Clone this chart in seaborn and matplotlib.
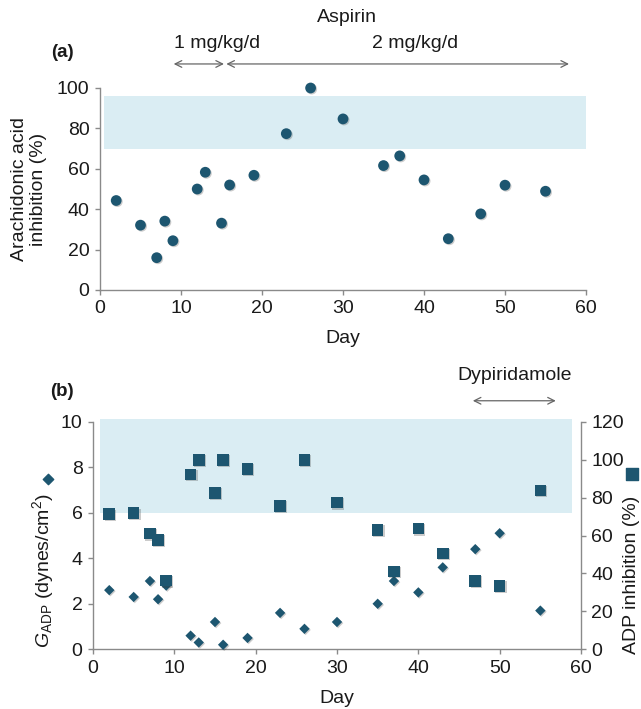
import matplotlib
matplotlib.use("Agg")
import matplotlib.pyplot as plt
import matplotlib.patheffects as pe
import seaborn as sns
import pandas as pd

# panel (a): arachidonic acid inhibition (%)
aa_day = [2, 5, 7, 8, 9, 12, 13, 15, 16, 19, 23, 26, 30, 35, 37, 40, 43, 47, 50, 55]
aa_inhib = [44.3, 32.1, 16, 34.1, 24.4, 50, 58.3, 33.1, 52, 56.8, 77.4, 100, 84.7,
            61.6, 66.4, 54.5, 25.4, 37.7, 51.9, 48.9]

# panel (b): G_ADP (left axis) and ADP inhibition % (right axis)
adp_day = [2, 5, 7, 8, 9, 12, 13, 15, 16, 19, 23, 26, 30, 35, 37, 40, 43, 47, 50, 55]
g_adp = [2.6, 2.3, 3.0, 2.2, 2.8, 0.6, 0.3, 1.2, 0.2, 0.5, 1.6, 0.9, 1.2, 2.0,
         3.0, 2.5, 3.6, 4.4, 5.1, 1.7]
adp_inhib = [71.2, 71.7, 61.0, 57.7, 36.2, 92.2, 99.9, 82.4, 99.9, 95.0, 75.6, 99.9,
             77.3, 63.0, 41.1, 63.6, 50.6, 36.0, 33.4, 83.7]

# target ranges (shaded bands)
aa_band = (0.5, 60, 70, 96)
g_band = (0.9, 58.9, 6.0, 10.1)

dfa = pd.DataFrame({"day": aa_day, "val": aa_inhib})
dfb = pd.DataFrame({"day": adp_day, "g": g_adp, "inh": adp_inhib})

sns.set_theme(style="ticks")
plt.rcParams["font.family"] = ["Liberation Sans", "DejaVu Sans"]
plt.rcParams["mathtext.fontset"] = "custom"
plt.rcParams["mathtext.rm"] = "Liberation Sans"
plt.rcParams["mathtext.it"] = "Liberation Sans:italic"

mark = "#1d5670"
band = "#daedf3"
spine = "#8a8a8a"
txt = "#1a1a1a"
fs = 14
shadow = [pe.SimplePatchShadow(offset=(0.8, -0.8), shadow_rgbFace=(0.2, 0.2, 0.2),
                               alpha=0.25), pe.Normal()]

fig = plt.figure(figsize=(6.41, 7.09), dpi=100)
ax_a = fig.add_axes([100 / 641, 1 - 290 / 709, 486 / 641, 202 / 709])
ax_b = fig.add_axes([93 / 641, 1 - 649.3 / 709, 488 / 641, 227.6 / 709])
ax_b2 = ax_b.twinx()


def style(ax, sides):
    for s in ["top", "right", "left", "bottom"]:
        ax.spines[s].set_visible(s in sides)
        ax.spines[s].set_color(spine)
        ax.spines[s].set_linewidth(1.0)
    ax.tick_params(colors=spine, labelcolor=txt, labelsize=fs, length=3.5, width=1.0, pad=4)


# ---- panel (a)
ax_a.fill_between(aa_band[:2], aa_band[2], aa_band[3], color=band, lw=0, zorder=0)
sns.scatterplot(data=dfa, x="day", y="val", ax=ax_a, color=mark, s=60, marker="o",
                edgecolor="none", zorder=3, clip_on=False)
ax_a.collections[-1].set_path_effects(shadow)
ax_a.set_xlim(0, 60)
ax_a.set_ylim(0, 100)
ax_a.set_xticks(range(0, 61, 10))
ax_a.set_yticks(range(0, 101, 20))
style(ax_a, ["left", "bottom"])
ax_a.set_xlabel("")
ax_a.set_ylabel("")
ax_a.text(0.5, -0.238, "Day", transform=ax_a.transAxes, ha="center", va="center",
          fontsize=fs, color=txt)
ax_a.text(-0.146, 0.5, "Arachidonic acid\ninhibition (%)", transform=ax_a.transAxes,
          ha="center", va="center", rotation=90, fontsize=fs, color=txt, linespacing=1.1)
ax_a.text(-4.6, 1.178, "(a)", transform=ax_a.get_xaxis_transform(), ha="center",
          va="center", fontsize=fs - 0.5, fontweight="bold", color=txt)
ax_a.text(30.5, 1.351, "Aspirin", transform=ax_a.get_xaxis_transform(), ha="center",
          va="center", fontsize=fs, color=txt)
ax_a.text(14.4, 1.218, "1 mg/kg/d", transform=ax_a.get_xaxis_transform(), ha="center",
          va="center", fontsize=fs, color=txt)
ax_a.text(38.9, 1.218, "2 mg/kg/d", transform=ax_a.get_xaxis_transform(), ha="center",
          va="center", fontsize=fs, color=txt)
arr = dict(arrowstyle="<->", color="#666666", lw=0.9, shrinkA=0, shrinkB=0)
ax_a.annotate("", xy=(9.1, 1.119), xytext=(15.3, 1.119),
              xycoords=ax_a.get_xaxis_transform(), arrowprops=arr, annotation_clip=False)
ax_a.annotate("", xy=(15.6, 1.119), xytext=(57.9, 1.119),
              xycoords=ax_a.get_xaxis_transform(), arrowprops=arr, annotation_clip=False)

# ---- panel (b)
ax_b.fill_between(g_band[:2], g_band[2], g_band[3], color=band, lw=0, zorder=0,
                  clip_on=False)
sns.scatterplot(data=dfb, x="day", y="g", ax=ax_b, color=mark, s=28, marker="D",
                edgecolor="none", zorder=3, clip_on=False)
ax_b.collections[-1].set_path_effects(shadow)
sns.scatterplot(data=dfb, x="day", y="inh", ax=ax_b2, color=mark, s=70, marker="s",
                edgecolor="none", zorder=3, clip_on=False)
ax_b2.collections[-1].set_path_effects(shadow)
ax_b.set_xlim(0, 60)
ax_b.set_ylim(0, 10)
ax_b2.set_ylim(0, 120)
ax_b.set_xticks(range(0, 61, 10))
ax_b.set_yticks(range(0, 11, 2))
ax_b2.set_yticks(range(0, 121, 20))
style(ax_b, ["left", "bottom"])
style(ax_b2, ["right"])
ax_b.set_xlabel("")
ax_b.set_ylabel("")
ax_b2.set_ylabel("")
ax_b.text(0.5, -0.214, "Day", transform=ax_b.transAxes, ha="center", va="center",
          fontsize=fs, color=txt)
ax_b.text(-0.103, 0.344, r"$G_{\mathrm{ADP}}$ (dynes/cm$^2$)", transform=ax_b.transAxes,
          ha="center", va="center", rotation=90, fontsize=fs, color=txt)
ax_b.scatter([-0.092], [0.748], transform=ax_b.transAxes, marker="D", s=28, color=mark,
             clip_on=False)
ax_b2.text(1.104, 0.327, "ADP inhibition (%)", transform=ax_b.transAxes, ha="center",
           va="center", rotation=90, fontsize=fs, color=txt)
ax_b2.scatter([1.104], [0.77], transform=ax_b.transAxes, marker="s", s=70, color=mark,
              clip_on=False)
ax_b.text(-3.8, 1.131, "(b)", transform=ax_b.get_xaxis_transform(), ha="center",
          va="center", fontsize=fs - 0.5, fontweight="bold", color=txt)
ax_b.text(51.9, 1.205, "Dypiridamole", transform=ax_b.get_xaxis_transform(), ha="center",
          va="center", fontsize=fs, color=txt)
ax_b.annotate("", xy=(46.7, 1.092), xytext=(56.9, 1.092),
              xycoords=ax_b.get_xaxis_transform(), arrowprops=arr, annotation_clip=False)

fig.savefig("out.png", dpi=100)
